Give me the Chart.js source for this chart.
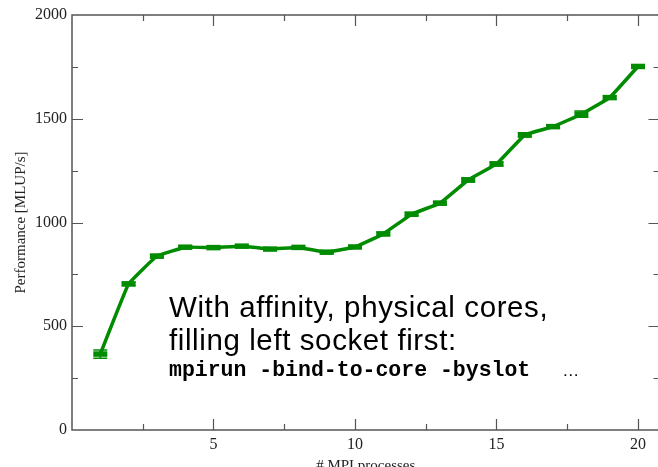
<!DOCTYPE html>
<html>
<head>
<meta charset="utf-8">
<script src="https://cdn.jsdelivr.net/npm/chart.js@4"></script>
<style>
  html, body { margin: 0; padding: 0; background: #fff; overflow: hidden; }
  #wrap { width: 658px; height: 467px; overflow: hidden; position: relative; }
  #chart { display: block; }
</style>
</head>
<body>
<div id="wrap">
  <canvas id="chart" width="672" height="478"></canvas>
</div>
<script>
// data
const processes = [1, 2, 3, 4, 5, 6, 7, 8, 9, 10, 11, 12, 13, 14, 15, 16, 17, 18, 19, 20];
const performance = [366, 704, 838, 881, 879, 886, 872, 880, 857, 882, 945, 1040, 1093, 1205, 1282, 1422, 1462, 1522, 1602, 1752];
const errors = [20, 8, 8, 6, 6, 6, 6, 6, 6, 6, 8, 8, 8, 10, 10, 10, 8, 15, 8, 8];
const xTicks = [2.5, 5, 7.5, 10, 12.5, 15, 17.5, 20];
const yTicks = [250, 500, 750, 1000, 1250, 1500, 1750];

const GREEN = '#008b00';
const FRAME = '#555';
const serif = '"Liberation Serif", "DejaVu Serif", serif';

// frame + inward ticks, like the xmgrace original
const framePlugin = {
    id: 'frame',
    afterDraw(chart) {
        const { ctx, chartArea: a, scales: { x, y } } = chart;
        ctx.save();
        ctx.strokeStyle = FRAME;
        ctx.lineWidth = 1.5;
        ctx.strokeRect(a.left, a.top, a.right - a.left, a.bottom - a.top);
        ctx.lineWidth = 1.2;
        ctx.beginPath();
        xTicks.forEach(v => {
            const px = Math.round(x.getPixelForValue(v)) + 0.5;
            const len = v % 5 === 0 ? 11 : 6;
            ctx.moveTo(px, a.bottom); ctx.lineTo(px, a.bottom - len);
            ctx.moveTo(px, a.top); ctx.lineTo(px, a.top + len);
        });
        yTicks.forEach(v => {
            const py = Math.round(y.getPixelForValue(v)) + 0.5;
            const len = v % 500 === 0 ? 11 : 6;
            ctx.moveTo(a.left, py); ctx.lineTo(a.left + len, py);
            ctx.moveTo(a.right, py); ctx.lineTo(a.right - len, py);
        });
        ctx.stroke();

        // annotation
        ctx.fillStyle = '#000';
        ctx.textBaseline = 'alphabetic';
        ctx.font = '29.5px "Liberation Sans", Arial, sans-serif';
        ctx.letterSpacing = '0.6px';
        ctx.fillText('With affinity, physical cores,', 169, 317);
        ctx.fillText('filling left socket first:', 169, 350);
        ctx.letterSpacing = '0px';
        ctx.font = 'bold 21.5px "Liberation Mono", "Courier New", monospace';
        const cmd = 'mpirun -bind-to-core -byslot ';
        ctx.fillText(cmd, 169, 376);
        const w = ctx.measureText(cmd).width;
        ctx.font = '17px "Liberation Sans", Arial, sans-serif';
        ctx.fillText('…', 169 + w + 19, 376);
        ctx.restore();
    }
};

// small vertical error bars with caps
const errorPlugin = {
    id: 'errorbars',
    beforeDatasetsDraw(chart) {
        const { ctx, scales: { x, y } } = chart;
        ctx.save();
        ctx.strokeStyle = GREEN;
        ctx.lineWidth = 1.5;
        ctx.beginPath();
        processes.forEach((p, i) => {
            const px = x.getPixelForValue(p);
            const lo = y.getPixelForValue(performance[i] - errors[i]);
            const hi = y.getPixelForValue(performance[i] + errors[i]);
            ctx.moveTo(px, lo); ctx.lineTo(px, hi);
            ctx.moveTo(px - 7, lo); ctx.lineTo(px + 7, lo);
            ctx.moveTo(px - 7, hi); ctx.lineTo(px + 7, hi);
        });
        ctx.stroke();
        ctx.restore();
    }
};

new Chart(document.getElementById('chart'), {
    type: 'line',
    data: {
        datasets: [{
            data: processes.map((p, i) => ({ x: p, y: performance[i] })),
            borderColor: GREEN,
            backgroundColor: GREEN,
            borderWidth: 3.5,
            tension: 0.08,
            pointStyle: 'line',
            pointRadius: 7,
            pointBorderWidth: 5.5,
            pointBorderColor: GREEN,
            clip: false
        }]
    },
    options: {
        responsive: false,
        animation: false,
        events: [],
        layout: { padding: { top: 15, right: 3, left: 0, bottom: 0 } },
        plugins: { legend: { display: false }, tooltip: { enabled: false } },
        scales: {
            x: {
                type: 'linear',
                min: 0,
                max: 20.76,
                afterFit(s) { s.height = 48; },
                afterBuildTicks(s) { s.ticks = xTicks.map(v => ({ value: v })); },
                ticks: {
                    autoSkip: false,
                    maxRotation: 0,
                    padding: 5,
                    color: '#222',
                    font: { family: serif, size: 16 },
                    callback: v => (v % 5 === 0 ? String(v) : '')
                },
                grid: { display: false, drawTicks: false },
                border: { display: false },
                title: {
                    display: true,
                    text: '# MPI processes',
                    color: '#222',
                    font: { family: serif, size: 15 },
                    padding: { top: 0, bottom: 3 }
                }
            },
            y: {
                min: 0,
                max: 2000,
                afterFit(s) { s.width = 72; },
                afterBuildTicks(s) { s.ticks = [0, 500, 1000, 1500, 2000].map(v => ({ value: v })); },
                ticks: {
                    padding: 5,
                    color: '#222',
                    font: { family: serif, size: 16 },
                    callback: v => String(v)
                },
                grid: { display: false, drawTicks: false },
                border: { display: false },
                title: {
                    display: true,
                    text: 'Performance [MLUP/s]',
                    color: '#222',
                    font: { family: serif, size: 15 },
                    padding: { top: 12, bottom: 0 }
                }
            }
        }
    },
    plugins: [errorPlugin, framePlugin]
});
</script>
</body>
</html>
